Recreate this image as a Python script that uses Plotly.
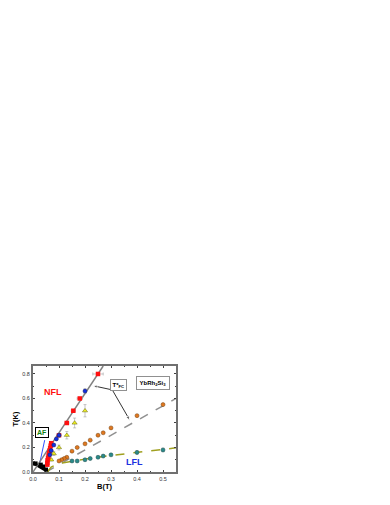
import plotly.graph_objects as go

# ---- data ----
red_B = [0.25, 0.18, 0.155, 0.13, 0.10, 0.07, 0.068, 0.066, 0.064, 0.062, 0.06, 0.058, 0.056, 0.055, 0.055]
red_T = [0.80, 0.60, 0.50, 0.40, 0.30, 0.235, 0.215, 0.195, 0.175, 0.155, 0.135, 0.115, 0.095, 0.075, 0.06]
red_dB = [0.02, 0.01, 0.008, 0.008, 0.008, 0.004, 0.004, 0.004, 0.004, 0.004, 0.004, 0.004, 0.004, 0.004, 0.004]

blue_B = [0.20, 0.10, 0.09, 0.08, 0.07, 0.065]
blue_T = [0.66, 0.30, 0.27, 0.22, 0.175, 0.14]
blue_dT = [0.02, 0.015, 0.01, 0.01, 0.01, 0.01]

yel_B = [0.20, 0.16, 0.13, 0.10, 0.08, 0.07]
yel_T = [0.50, 0.40, 0.30, 0.20, 0.15, 0.10]
yel_dT = [0.05, 0.04, 0.03, 0.02, 0.015, 0.01]

ora_B = [0.50, 0.40, 0.30, 0.27, 0.25, 0.22, 0.20, 0.17, 0.15, 0.13, 0.12, 0.11, 0.10]
ora_T = [0.55, 0.46, 0.36, 0.32, 0.30, 0.26, 0.23, 0.20, 0.17, 0.12, 0.11, 0.10, 0.09]

teal_B = [0.50, 0.40, 0.30, 0.27, 0.25, 0.22, 0.20, 0.17, 0.15]
teal_T = [0.18, 0.16, 0.14, 0.13, 0.12, 0.11, 0.10, 0.09, 0.09]
teal_dT = [0.015, 0.015, 0.01, 0.01, 0.01, 0.01, 0.01, 0.01, 0.01]

af_B = [0.0, 0.01, 0.03, 0.04, 0.05]
af_T = [0.07, 0.07, 0.06, 0.045, 0.02]

nfl_line_B = [0.0, 0.27]
nfl_line_T = [0.0, 0.865]
tfc_line_B = [0.05, 0.55]
tfc_line_T = [0.0, 0.60]
lfl_line_B = [0.055, 0.07, 0.10, 0.15, 0.20, 0.30, 0.40, 0.50, 0.55]
lfl_line_T = [0.0, 0.04, 0.07, 0.09, 0.105, 0.135, 0.16, 0.185, 0.197]
af_line_B = [0.0, 0.06]
af_line_T = [0.075, 0.0]
blue_line_B = [0.026, 0.045]
blue_line_T = [0.073, 0.26]
arrow1_B = [0.305, 0.229]
arrow1_T = [0.67, 0.705]
arrow2_B = [0.305, 0.373]
arrow2_T = [0.67, 0.42]

x_ticks = [0.0, 0.1, 0.2, 0.3, 0.4, 0.5]
y_ticks = [0.0, 0.2, 0.4, 0.6, 0.8]

fig = go.Figure()
fig.add_trace(go.Scatter(x=af_line_B, y=af_line_T, mode="lines", line=dict(color="black", width=3)))
fig.add_trace(go.Scatter(x=blue_line_B, y=blue_line_T, mode="lines", line=dict(color="#3050ff", width=1)))
fig.add_trace(go.Scatter(x=nfl_line_B, y=nfl_line_T, mode="lines", line=dict(color="#808080", width=1.5)))
fig.add_trace(go.Scatter(x=tfc_line_B, y=tfc_line_T, mode="lines", line=dict(color="#909090", width=1.5, dash="dash")))
fig.add_trace(go.Scatter(x=lfl_line_B, y=lfl_line_T, mode="lines", line=dict(color="#a0a020", width=1.5, dash="dash")))

fig.add_trace(go.Scatter(x=af_B, y=af_T, mode="markers",
                         marker=dict(symbol="square", size=4, color="black")))
fig.add_trace(go.Scatter(x=teal_B, y=teal_T, mode="markers",
                         error_y=dict(type="data", array=teal_dT, color="#a0a0a0", thickness=0.6, width=1.5),
                         marker=dict(symbol="circle", size=4, color="#2a8a8a", line=dict(color="#205050", width=0.5))))
fig.add_trace(go.Scatter(x=ora_B, y=ora_T, mode="markers",
                         marker=dict(symbol="circle", size=4, color="#e07820", line=dict(color="#704010", width=0.5))))
fig.add_trace(go.Scatter(x=yel_B, y=yel_T, mode="markers",
                         error_y=dict(type="data", array=yel_dT, color="#a0a0a0", thickness=0.6, width=1.5),
                         marker=dict(symbol="triangle-up", size=4.5, color="#f0f020", line=dict(color="#606000", width=0.5))))
fig.add_trace(go.Scatter(x=red_B, y=red_T, mode="markers",
                         error_x=dict(type="data", array=red_dB, color="#a0a0a0", thickness=0.6, width=1.5),
                         marker=dict(symbol="square", size=4.5, color="#ff1010")))
fig.add_trace(go.Scatter(x=blue_B, y=blue_T, mode="markers",
                         error_y=dict(type="data", array=blue_dT, color="#a0a0a0", thickness=0.6, width=1.5),
                         marker=dict(symbol="circle", size=4, color="#1030e0", line=dict(color="#101060", width=0.5))))
for ab, at in ((arrow1_B, arrow1_T), (arrow2_B, arrow2_T)):
    fig.add_trace(go.Scatter(x=ab, y=at, mode="lines+markers", line=dict(color="black", width=0.8),
                             marker=dict(symbol=["circle", "arrow"], size=[0, 5], angleref="previous", color="black")))

ann = []
ann.append(dict(x=0.075, y=0.65, text="<b>NFL</b>", showarrow=False, font=dict(color="#ff1010", size=9, family="Liberation Sans")))
ann.append(dict(x=0.39, y=0.08, text="<b>LFL</b>", showarrow=False, font=dict(color="#2030e0", size=9, family="Liberation Sans")))
ann.append(dict(x=0.034, y=0.32, text="<b>AF</b>", showarrow=False, bordercolor="black", borderwidth=1, bgcolor="white",
                borderpad=1, font=dict(color="#108010", size=7, family="Liberation Sans")))
ann.append(dict(x=0.46, y=0.73, text="<b>YbRh<sub>2</sub>Si<sub>3</sub></b>", showarrow=False, bordercolor="#909090",
                borderwidth=1, bgcolor="white", borderpad=2.5, font=dict(color="black", size=6, family="Liberation Sans")))
ann.append(dict(x=0.33, y=0.71, text="<b>T*<sub>FC</sub></b>", showarrow=False, bordercolor="#909090",
                borderwidth=1, bgcolor="white", borderpad=1.5, font=dict(color="black", size=6, family="Liberation Sans")))

# page body has an 8px margin, so the figure is drawn slightly smaller
fig.update_layout(
    width=382, height=497,
    margin=dict(l=25, r=214, t=358, b=33, autoexpand=False),
    paper_bgcolor="white", plot_bgcolor="white",
    showlegend=False,
    annotations=ann,
    font=dict(family="Liberation Sans", color="black"),
)
fig.update_xaxes(range=[0, 0.55], tickvals=x_ticks, ticktext=[f"{v:.1f}" for v in x_ticks],
                 ticks="inside", ticklen=2, tickwidth=0.5, tickcolor="#404040",
                 minor=dict(ticks="inside", ticklen=1, dtick=0.05, tickcolor="#404040"),
                 showline=True, linecolor="#707070", linewidth=2, mirror="ticks",
                 showgrid=False, zeroline=False, tickfont=dict(size=5.5, color="#333333"), automargin=False,
                 title=dict(text="<b>B(T)</b>", font=dict(size=7.5), standoff=3))
fig.update_yaxes(range=[0, 0.865], tickvals=y_ticks, ticktext=[f"{v:.1f}" for v in y_ticks],
                 ticks="inside", ticklen=2, tickwidth=0.5, tickcolor="#404040",
                 minor=dict(ticks="inside", ticklen=1, dtick=0.1, tickcolor="#404040"),
                 showline=True, linecolor="#707070", linewidth=2, mirror="ticks",
                 showgrid=False, zeroline=False, tickfont=dict(size=5.5, color="#333333"), automargin=False,
                 title=dict(text="<b>T(K)</b>", font=dict(size=7.5), standoff=3))

fig.write_html("out.html")
